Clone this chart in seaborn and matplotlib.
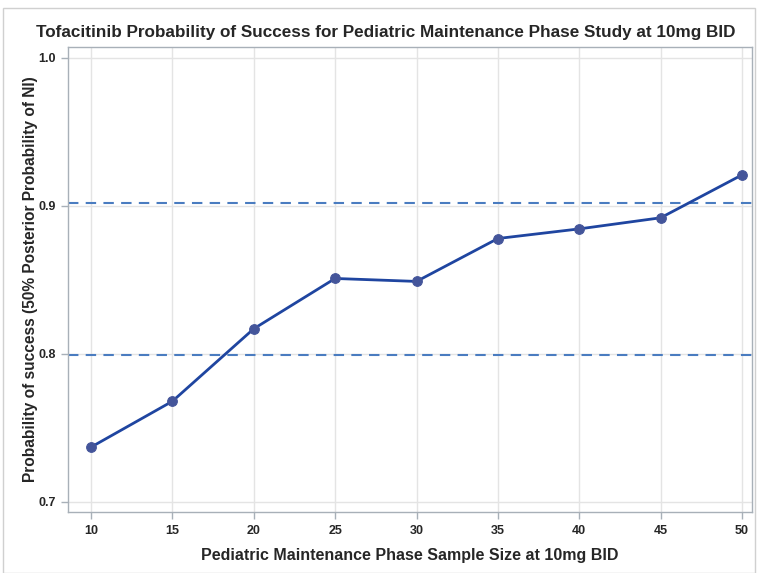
import numpy as np
import pandas as pd
from matplotlib import pyplot as plt
import matplotlib.patches as mpatches
import seaborn as sns

# datos
sample_size = [10, 15, 20, 25, 30, 35, 40, 45, 50]
prob_success = [0.737, 0.768, 0.817, 0.851, 0.849, 0.878, 0.8845, 0.892, 0.921]
ref_lines = [0.902, 0.799]
y_ticks = [0.7, 0.8, 0.9, 1.0]

df = pd.DataFrame({'n': sample_size, 'pos': prob_success})

sns.set_theme(style='whitegrid')
plt.rcParams['font.family'] = ['Liberation Sans', 'DejaVu Sans']

fig = plt.figure(figsize=(7.59, 5.73), dpi=100)
ax = fig.add_axes([68/759, 1 - 512/573, (752-68)/759, (512-47)/573])

# marco exterior
fig.patches.append(mpatches.Rectangle((3/759, 0), 752/759, 1 - 8/573, transform=fig.transFigure,
                                      fill=False, edgecolor='#d0d0d0', linewidth=1))

for yv in ref_lines:
    ax.axhline(yv, color='#4a7cc0', linestyle=(0, (5, 3.5)), linewidth=1.5, zorder=2)

sns.lineplot(data=df, x='n', y='pos', ax=ax, color='#1f45a0', linewidth=2,
             marker='o', markersize=7, markerfacecolor='#44559a',
             markeredgecolor='#44559a', zorder=3)

ax.set_xlim(8.59, 50.61)
ax.set_ylim(0.6932, 1.0074)
ax.set_xticks(sample_size)
ax.set_yticks(y_ticks)
ax.set_yticklabels(['0.7', '0.8', '0.9', '1.0'])

ax.grid(True, color='#e4e4e4', linewidth=1)
for s in ax.spines.values():
    s.set_color('#a8b0b8')
    s.set_linewidth(1)
ax.tick_params(axis='both', which='both', length=5, color='#a8b0b8', width=1,
               labelsize=9, pad=4, bottom=True, left=True)
for lbl in ax.get_xticklabels() + ax.get_yticklabels():
    lbl.set_fontweight('bold')

ax.set_xlabel('Pediatric Maintenance Phase Sample Size at 10mg BID', fontsize=11.5,
              fontweight='bold', labelpad=8)
ax.set_ylabel('Probability of success (50% Posterior Probability of NI)', fontsize=11.2,
              fontweight='bold')
ax.yaxis.set_label_coords(-0.044, 0.5)
fig.text(386/759, 1 - 33/573, 'Tofacitinib Probability of Success for Pediatric Maintenance Phase Study at 10mg BID',
         ha='center', va='center', fontsize=12.3, fontweight='bold')

plt.savefig('out.png', dpi=100)
